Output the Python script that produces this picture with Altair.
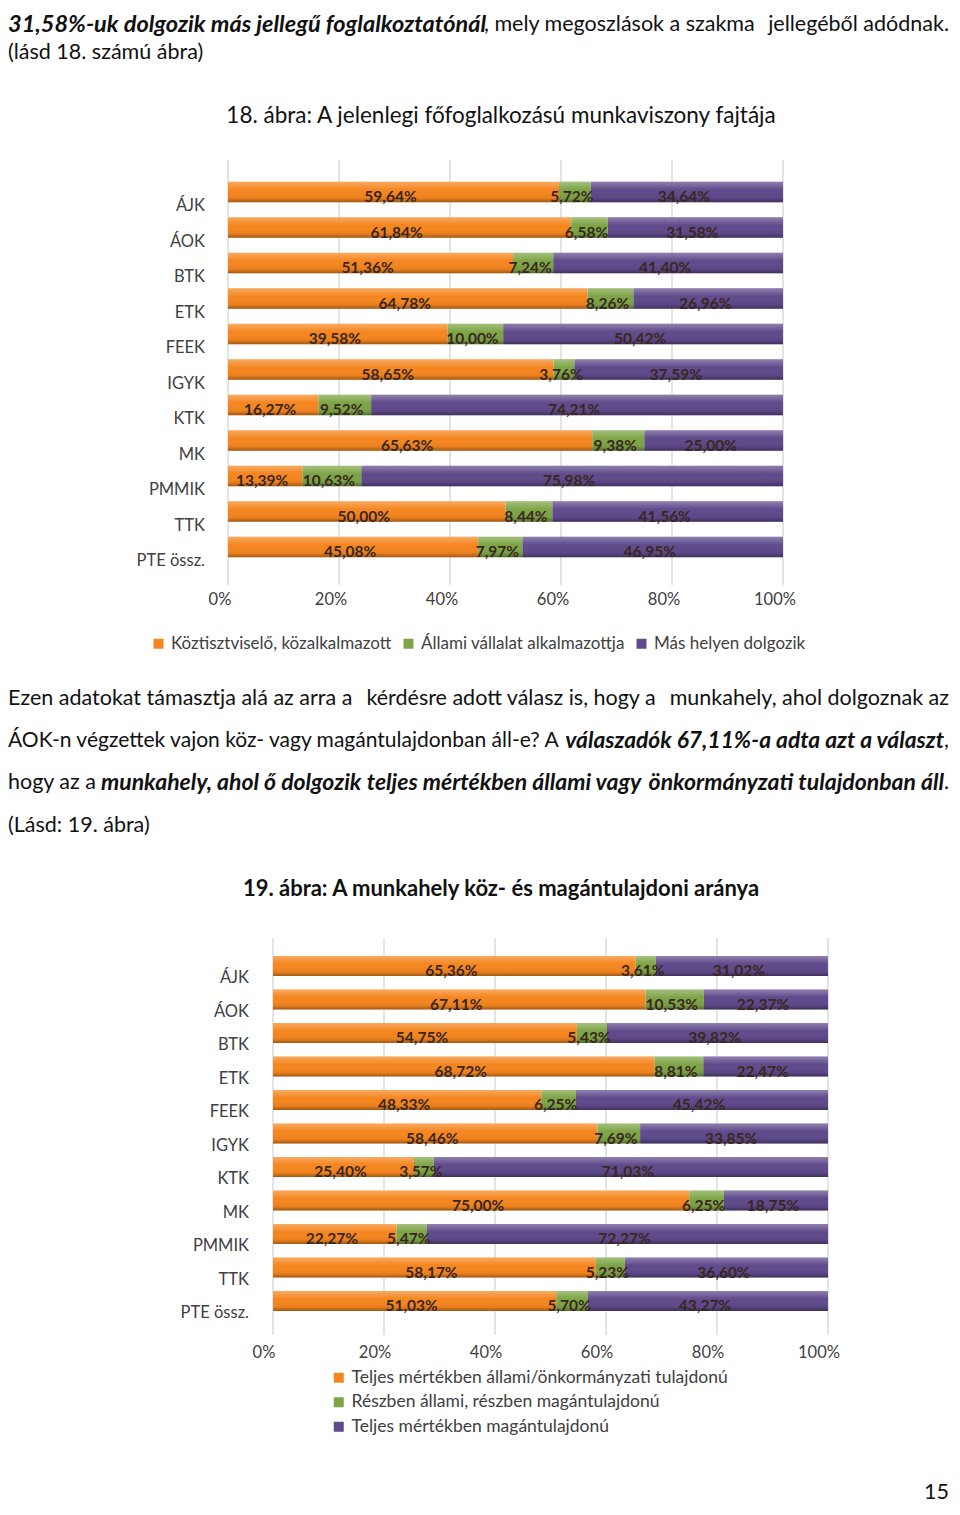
import altair as alt
import pandas as pd

# ---------------- data ----------------
cats = ["ÁJK", "ÁOK", "BTK", "ETK", "FEEK", "IGYK", "KTK", "MK", "PMMIK", "TTK", "PTE össz."]

series18 = ["Köztisztviselő, közalkalmazott", "Állami vállalat alkalmazottja", "Más helyen dolgozik"]
v18_kozt = [59.64, 61.84, 51.36, 64.78, 39.58, 58.65, 16.27, 65.63, 13.39, 50.00, 45.08]
v18_allami = [5.72, 6.58, 7.24, 8.26, 10.00, 3.76, 9.52, 9.38, 10.63, 8.44, 7.97]
v18_mas = [34.64, 31.58, 41.40, 26.96, 50.42, 37.59, 74.21, 25.00, 75.98, 41.56, 46.95]

series19 = ["Teljes mértékben állami/önkormányzati tulajdonú",
            "Részben állami, részben magántulajdonú",
            "Teljes mértékben magántulajdonú"]
v19_allami = [65.36, 67.11, 54.75, 68.72, 48.33, 58.46, 25.40, 75.00, 22.27, 58.17, 51.03]
v19_reszben = [3.61, 10.53, 5.43, 8.81, 6.25, 7.69, 3.57, 6.25, 5.47, 5.23, 5.70]
v19_magan = [31.02, 22.37, 39.82, 22.47, 45.42, 33.85, 71.03, 18.75, 72.27, 36.60, 43.27]

tick_values = [0, 20, 40, 60, 80, 100]
tick_labels = ["0%", "20%", "40%", "60%", "80%", "100%"]

title18 = "18.  ábra: A jelenlegi főfoglalkozású munkaviszony fajtája"
title19 = "19.  ábra: A munkahely köz- és magántulajdoni aránya"

# ---------------- styles / layout ----------------
M = 8
F = "Lato"
COLORS = ["#F5861F", "#7DA546", "#5F4A8B"]


def long_df(series, vals):
    rows = []
    for si, (s, vs) in enumerate(zip(series, vals)):
        for c, v in zip(cats, vs):
            rows.append(dict(cat=c, series=s, order=si, value=v,
                             label=f"{v:.2f}".replace(".", ",") + "%"))
    return pd.DataFrame(rows)


def bar_block(df, series, xr, yr, pad, grid_y, tick_y, tick_dx, ylab_x, ylab_dy, legend):
    xs = alt.Scale(domain=[0, 100], range=xr, nice=False, zero=False)
    ys = alt.Scale(domain=cats, range=yr, paddingInner=pad, paddingOuter=pad / 2)
    base = alt.Chart(df).transform_stack(
        stack="value", groupby=["cat"], as_=["x0", "x1"],
        sort=[alt.SortField(field="order", order="ascending")],
    ).transform_calculate(mid="(datum.x0 + datum.x1) / 2")

    tdf = pd.DataFrame({"t": tick_values, "lab": tick_labels})
    grid = alt.Chart(tdf).mark_rule(color="#d2d2d2", strokeWidth=1.2).encode(
        x=alt.X("t:Q", scale=xs, axis=None),
        y=alt.value(grid_y[0]), y2=alt.value(grid_y[1]),
    )
    bars = base.mark_bar().encode(
        x=alt.X("x0:Q", scale=xs, axis=None), x2="x1:Q",
        y=alt.Y("cat:N", scale=ys, axis=None),
        color=alt.Color("series:N", scale=alt.Scale(domain=series, range=COLORS),
                        legend=legend),
    )
    cdf = pd.DataFrame({"cat": cats, "lo": [0] * len(cats), "hi": [100] * len(cats)})
    shade = alt.Chart(cdf).mark_bar(
        color=alt.Gradient(
            gradient="linear", x1=0, x2=0, y1=0, y2=1,
            stops=[alt.GradientStop(offset=0, color="rgba(255,255,255,0.30)"),
                   alt.GradientStop(offset=0.4, color="rgba(255,255,255,0.0)"),
                   alt.GradientStop(offset=0.8, color="rgba(0,0,0,0.05)"),
                   alt.GradientStop(offset=1, color="rgba(0,0,0,0.35)")]),
    ).encode(
        x=alt.X("lo:Q", scale=xs, axis=None), x2="hi:Q",
        y=alt.Y("cat:N", scale=ys, axis=None),
    )
    labels = base.mark_text(font=F, fontSize=15.5, fontWeight="bold", color="#3a2620",
                            dy=5, dx=-3).encode(
        x=alt.X("mid:Q", scale=xs, axis=None),
        y=alt.Y("cat:N", scale=ys, axis=None),
        text="label:N",
    )
    tlabels = alt.Chart(tdf).mark_text(font=F, fontSize=16.5, color="#404040", dx=tick_dx).encode(
        x=alt.X("t:Q", scale=xs, axis=None),
        y=alt.value(tick_y),
        text="lab:N",
    )
    ylabels = alt.Chart(cdf).mark_text(font=F, fontSize=16.5, color="#404040", align="right",
                                       dy=ylab_dy).encode(
        x=alt.value(ylab_x),
        y=alt.Y("cat:N", scale=ys, axis=None),
        text="cat:N",
    )
    return alt.layer(grid, bars, shade, labels, tlabels, ylabels)


df18 = long_df(series18, [v18_kozt, v18_allami, v18_mas])
df19 = long_df(series19, [v19_allami, v19_reszben, v19_magan])

leg18 = alt.Legend(orient="none", legendX=150 - M, legendY=635 - M, direction="horizontal",
                   title=None, symbolType="square", symbolSize=100, symbolStrokeWidth=0,
                   labelFont=F, labelFontSize=17, labelColor="#404040", columnPadding=8,
                   labelOffset=4, padding=0, labelLimit=0)
leg19 = alt.Legend(orient="none", legendX=330 - M, legendY=1369 - M, direction="vertical",
                   title=None, symbolType="square", symbolSize=100, symbolStrokeWidth=0,
                   labelFont=F, labelFontSize=17.5, labelColor="#404040", rowPadding=5.5,
                   labelOffset=4, padding=0, labelLimit=0)

chart18 = bar_block(df18, series18, [228 - M, 783 - M], [174.25 - M, 564.75 - M], 0.42,
                    [160 - M, 585 - M], 600 - M, -8, 205 - M, 14, leg18)
chart19 = bar_block(df19, series19, [273 - M, 828 - M], [949.25 - M, 1317.75 - M], 0.40,
                    [938 - M, 1335 - M], 1353 - M, -9, 249 - M, 12, leg19)

# ---------------- body text ----------------
R = 949  # right edge of the text column (page px)
# text segments (page x, page y, text, align, font size)
regular_segments = [
    (484, 25, ", mely megoszlások a szakma", "left", 21.5),
    (R, 25, "jellegéből adódnak.", "right", 21.5),
    (8, 53, "(lásd 18. számú ábra)", "left", 21.5),
    (501, 116, title18, "center", 22.5),
    (8, 699, "Ezen adatokat támasztja alá az arra a", "left", 21.5),
    (511, 699, "kérdésre adott válasz is, hogy a", "center", 21.5),
    (R, 699, "munkahely, ahol dolgoznak az", "right", 21.5),
    (8, 741, "ÁOK-n végzettek vajon köz- vagy magántulajdonban áll-e? A", "left", 21),
    (R, 741, ",", "right", 21.5),
    (8, 783, "hogy az a", "left", 21.5),
    (R, 783, ".", "right", 21.5),
    (8, 826, "(Lásd: 19. ábra)", "left", 21.5),
    (R, 1493, "15", "right", 21.5),
]
bolditalic_segments = [
    (8, 25, "31,58%-uk dolgozik más jellegű foglalkoztatónál", "left", 23.5),
    (944, 741, "válaszadók 67,11%-a adta azt a választ", "right", 22.8),
    (101, 783, "munkahely, ahol ő dolgozik", "left", 23),
    (504, 783, "teljes mértékben állami vagy", "center", 23),
    (944, 783, "önkormányzati tulajdonban áll", "right", 23),
]
bold_segments = [
    (501, 889, title19, "center", 22),
]


def text_layer(segs, weight, style):
    layers = []
    groups = sorted({(a, s) for (_, _, _, a, s) in segs})
    for align, size in groups:
        rows = [dict(x=x - M, y=y - M, text=t) for (x, y, t, a, s) in segs if a == align and s == size]
        layers.append(
            alt.Chart(pd.DataFrame(rows)).mark_text(
                font=F, fontSize=size, fontWeight=weight, fontStyle=style,
                color="#111111", align=align, baseline="middle",
            ).encode(
                x=alt.X("x:Q", scale=None, axis=None),
                y=alt.Y("y:Q", scale=None, axis=None),
                text="text:N",
            )
        )
    return layers


texts = (text_layer(regular_segments, "normal", "normal")
         + text_layer(bolditalic_segments, "bold", "italic")
         + text_layer(bold_segments, "bold", "normal"))

chart = alt.layer(*texts, chart18, chart19).resolve_scale(
    x="independent", y="independent", color="independent"
).resolve_legend(color="independent").properties(
    width=944, height=1499, padding=0,
    autosize=alt.AutoSizeParams(type="none"),
).configure_view(stroke=None)

chart.save("out.html", embed_options={"renderer": "svg", "actions": False})
